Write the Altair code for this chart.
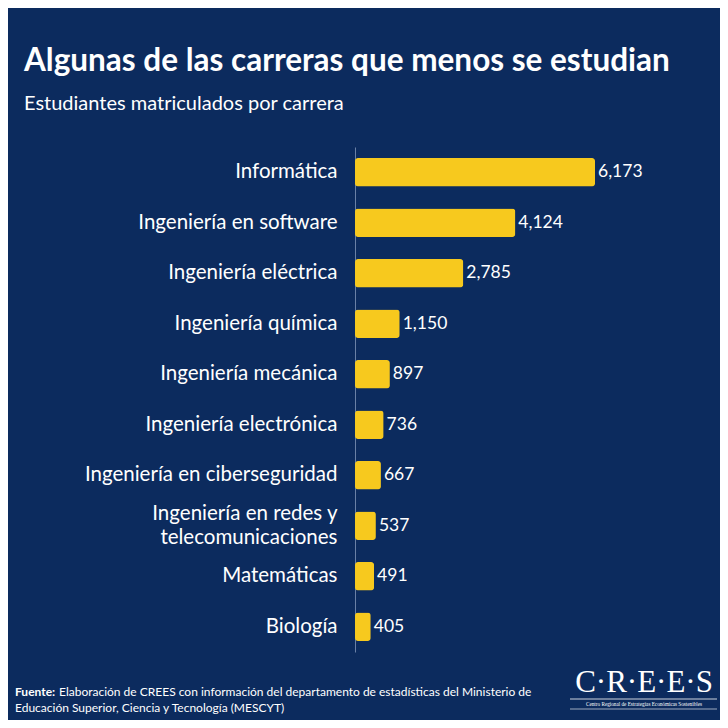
import altair as alt
import pandas as pd

carreras = [
    "Informática",
    "Ingeniería en software",
    "Ingeniería eléctrica",
    "Ingeniería química",
    "Ingeniería mecánica",
    "Ingeniería electrónica",
    "Ingeniería en ciberseguridad",
    "Ingeniería en redes y telecomunicaciones",
    "Matemáticas",
    "Biología",
]
matriculados = [6173, 4124, 2785, 1150, 897, 736, 667, 537, 491, 405]

titulo = "Algunas de las carreras que menos se estudian"
subtitulo = "Estudiantes matriculados por carrera"
fuente_bold = "Fuente:"
fuente_1 = "Elaboración de CREES con información del departamento de estadísticas del Ministerio de"
fuente_2 = "Educación Superior, Ciencia y Tecnología (MESCYT)"
logo = "C·R·E·E·S"
logo_sub = "Centro Regional de Estrategias Económicas Sostenibles"

BG = "#0c2b5e"
BAR = "#f7c91e"
FONT = "Lato"

df = pd.DataFrame({"carrera": carreras, "valor": matriculados})

# plot origin at page (355, 147)
OX, OY = 355, 147
W, H = 240, 505

two_line = "Ingeniería en redes y telecomunicaciones"
label_expr = (
    f"datum.label == '{two_line}' ? "
    "['Ingeniería en redes y\u00a0\u00a0', 'telecomunicaciones'] : datum.label"
)

base = alt.Chart(df).encode(
    y=alt.Y(
        "carrera:N",
        sort=carreras,
        title=None,
        scale=alt.Scale(paddingInner=0.44, paddingOuter=0.22),
        axis=alt.Axis(
            labelExpr=label_expr,
            labelFont=FONT,
            labelFontSize=20.5,
            labelColor="#ffffff",
            labelPadding=18,
            labelLineHeight=24,
            labelLimit=400,
            labelOffset={"condition": {"test": f"datum.label == '{two_line}'", "value": -12}, "value": 0},
            ticks=False,
            domain=True,
            domainColor="#6a80a6",
            domainWidth=1,
            grid=False,
        ),
    )
)

xscale = alt.Scale(domain=[0, 6173], nice=False, zero=True)

bars = base.mark_bar(color=BAR, cornerRadius=3).encode(
    x=alt.X("valor:Q", axis=None, scale=xscale)
)

values = base.mark_text(
    align="left", baseline="middle", dx=3, font=FONT, fontSize=17.5, color="#ffffff"
).encode(
    x=alt.X("valor:Q", scale=xscale),
    text=alt.Text("valor:Q", format=","),
)


def txt(s, px, py, size, weight="normal", font=FONT, align="left", color="#ffffff"):
    kw = dict(align=align, baseline="alphabetic", font=font, fontSize=size,
              fontWeight=weight, color=color)
    return alt.Chart(pd.DataFrame({"t": [s]})).mark_text(**kw).encode(
        x=alt.value(px - OX), y=alt.value(py - OY), text="t:N"
    )


title_m = txt(titulo, 24, 71, 31.5, weight="bold")
sub_m = txt(subtitulo, 24, 110, 20)
f0 = txt(fuente_bold, 15, 696, 12, weight="bold")
f1 = txt(fuente_1, 59, 696, 12)
f2 = txt(fuente_2, 15, 712, 12)
logo_m = txt(logo, 644, 692, 31, font="Liberation Serif", align="center")
logo_s = txt(logo_sub, 644, 706, 5.2, font="Liberation Serif", align="center")

lines_df = pd.DataFrame({"a": [0]})
rule1 = alt.Chart(lines_df).mark_rule(color="#ffffff", strokeWidth=0.8).encode(
    x=alt.value(570 - OX), x2=alt.value(717 - OX), y=alt.value(699 - OY)
)
rule2 = alt.Chart(lines_df).mark_rule(color="#ffffff", strokeWidth=0.6).encode(
    x=alt.value(570 - OX), x2=alt.value(717 - OX), y=alt.value(709 - OY)
)

chart = alt.layer(
    bars, values, title_m, sub_m, f0, f1, f2, logo_m, logo_s, rule1, rule2
).properties(
    width=W,
    height=H,
    autosize=alt.AutoSizeParams(type="none"),
    padding={"left": OX - 8, "top": OY - 8, "right": 712 - (OX - 8) - W, "bottom": 712 - (OY - 8) - H},
    background=BG,
).configure_view(stroke=None)

chart.save("out.html", embed_options={"renderer": "svg", "actions": False})
